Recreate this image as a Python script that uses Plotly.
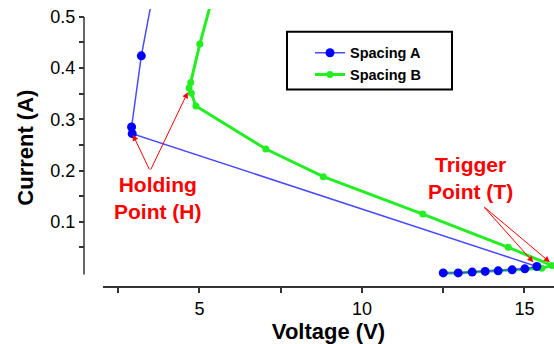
import plotly.graph_objects as go

# I-V snapback curves for two device spacings
# Spacing A: low-current rise to trigger, snapback to holding, then on-state climb
volt_a = [12.50, 12.96, 13.39, 13.79, 14.19, 14.62, 15.01, 15.38, 2.93, 2.91, 3.21, 3.60]
curr_a = [0.000, 0.000, 0.0016, 0.003, 0.004, 0.006, 0.008, 0.0126, 0.272, 0.285, 0.424, 0.555]

# Spacing B
volt_b = [12.50, 12.96, 13.39, 13.79, 14.19, 14.62, 15.01, 15.53, 15.84,
          14.50, 11.87, 8.81, 7.04, 4.89, 4.75, 4.68, 4.73, 5.01, 5.45]
curr_b = [0.000, 0.000, 0.0016, 0.003, 0.004, 0.006, 0.008, 0.009, 0.0146,
          0.050, 0.115, 0.188, 0.242, 0.326, 0.351, 0.361, 0.372, 0.447, 0.550]

# Annotated points (head positions of the arrows)
holding_a = (2.95, 0.270)
holding_b = (4.64, 0.353)
trigger_a = (15.27, 0.021)
trigger_b = (15.78, 0.021)

x_ticks = [2.5, 5, 7.5, 10, 12.5, 15]
x_tick_text = ["", "5", "", "10", "", "15"]
y_ticks = [0.05, 0.1, 0.15, 0.2, 0.25, 0.3, 0.35, 0.4, 0.45, 0.5]
y_tick_text = ["", "0.1", "", "0.2", "", "0.3", "", "0.4", "", "0.5"]

W, H = 554, 344
FONT = "Liberation Sans, Arial, sans-serif"
AXIS_COLOR = "#333333"
RED = "#ff0000"

fig = go.Figure()

fig.add_trace(go.Scatter(
    x=volt_b, y=curr_b, name="Spacing B", mode="lines+markers",
    line=dict(color="#22ee22", width=3),
    marker=dict(color="#22ee22", size=7),
    legendrank=2,
))
fig.add_trace(go.Scatter(
    x=volt_a, y=curr_a, name="Spacing A", mode="lines+markers",
    line=dict(color="#4a4aff", width=1.5),
    marker=dict(color="#0000ff", size=9),
    legendrank=1,
))

# Offset axes: y axis line sits left of the x axis start
x_left_px, y_axis_px, x_axis_px, top_px = 103, 84, 286, 7
fig.update_layout(
    width=W, height=H,
    margin=dict(l=0, r=0, t=0, b=0),
    paper_bgcolor="white", plot_bgcolor="white",
    font=dict(family=FONT, color="black"),
    xaxis=dict(
        domain=[x_left_px / W, 1.0],
        range=[2.031, 15.908],
        tickvals=x_ticks, ticktext=x_tick_text,
        ticks="outside", ticklen=5, tickwidth=1.5, tickcolor=AXIS_COLOR,
        showline=True, linecolor=AXIS_COLOR, linewidth=1.5,
        showgrid=False, zeroline=False,
        tickfont=dict(size=18, family=FONT, color="black"),
        title=dict(text="Voltage (V)", standoff=4,
                   font=dict(size=22, family=FONT, color="black", weight="bold")),
    ),
    yaxis=dict(
        domain=[(H - x_axis_px) / H, (H - top_px) / H],
        range=[-0.0262, 0.5155],
        anchor="free", position=y_axis_px / W,
        tickvals=y_ticks, ticktext=y_tick_text,
        ticks="outside", ticklen=5, tickwidth=1.5, tickcolor=AXIS_COLOR,
        showline=False, showgrid=False, zeroline=False,
        tickfont=dict(size=18, family=FONT, color="black"),
        title=dict(text="Current (A)", standoff=9,
                   font=dict(size=22, family=FONT, color="black", weight="bold")),
    ),
    legend=dict(
        x=310 / W, y=(H - 35) / H, xanchor="left", yanchor="top",
        bgcolor="rgba(0,0,0,0)", borderwidth=0,
        font=dict(size=14.5, family=FONT, color="black", weight="bold"),
        tracegroupgap=0,
    ),
    showlegend=True,
)

# y axis line spanning 0 to 0.5 only
fig.add_shape(type="line", xref="paper", yref="y",
              x0=y_axis_px / W, x1=y_axis_px / W, y0=-0.003, y1=0.5,
              line=dict(color=AXIS_COLOR, width=1.5))

# legend frame
fig.add_shape(type="rect", xref="paper", yref="paper",
              x0=287 / W, x1=452 / W, y0=(H - 88) / H, y1=(H - 30) / H,
              line=dict(color="black", width=2), fillcolor="rgba(0,0,0,0)")

# labels
fig.add_annotation(x=3.72, y=0.1456, xref="x", yref="y",
                   text="Holding<br>Point (H)", showarrow=False,
                   font=dict(size=21, family=FONT, color=RED, weight="bold"))
fig.add_annotation(x=13.35, y=0.186, xref="x", yref="y",
                   text="Trigger<br>Point (T)", showarrow=False,
                   font=dict(size=21, family=FONT, color=RED, weight="bold"))

# arrows
hold_tail = (3.48, 0.199)
trig_tail = (13.72, 0.131)
for head, tail in [(holding_a, hold_tail), (holding_b, hold_tail),
                   (trigger_a, trig_tail), (trigger_b, trig_tail)]:
    fig.add_annotation(x=head[0], y=head[1], ax=tail[0], ay=tail[1],
                       xref="x", yref="y", axref="x", ayref="y",
                       text="", showarrow=True, arrowhead=2, arrowsize=1.2,
                       arrowwidth=1, arrowcolor=RED, standoff=0)

fig.write_html("out.html")
